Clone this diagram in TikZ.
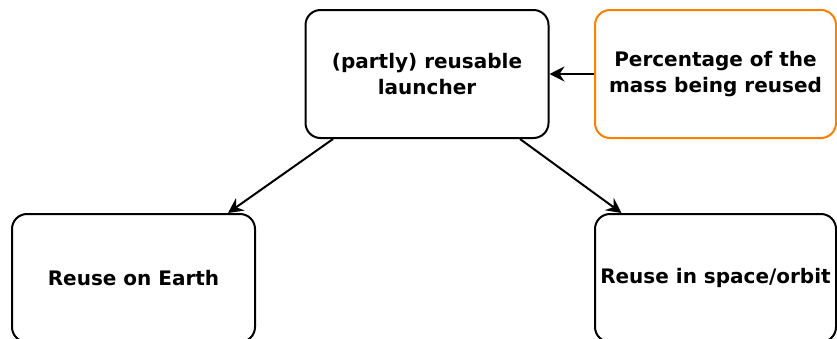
\documentclass[tikz,border=0pt]{standalone}
\usepackage{fontspec}
\setmainfont{DejaVu Sans}
\usetikzlibrary{arrows.meta}
\begin{document}
\begin{tikzpicture}[x=1pt,y=-1pt,
  box/.style={draw=black, line width=2pt, rounded corners=15pt, fill=white,
    minimum width=243pt, minimum height=128pt, inner sep=0pt, align=center,
    font=\fontsize{20}{26}\selectfont\bfseries},
  orangebox/.style={box, draw={rgb,255:red,255;green,128;blue,0}},
  arr/.style={draw=black, line width=2pt, -{Stealth[length=15pt,width=15pt,inset=5pt]}}]
  \useasboundingbox (0,0) rectangle (837,338);
  \clip (0,0) rectangle (837,338);
  \node[box] (launcher) at (427,74) {(partly) reusable\\launcher};
  \node[orangebox, minimum width=241pt] (mass) at (715.5,74) {Percentage of the\\mass being reused};
  \node[box] (earth) at (133.5,278) {Reuse on Earth};
  \node[box, minimum width=241pt] (orbit) at (715.5,278) {Reuse in space/orbit};
  \draw[arr] (mass.west) -- (launcher.east);
  \draw[arr] ([xshift=-94pt]launcher.south) -- ([xshift=94.5pt]earth.north);
  \draw[arr] ([xshift=93pt]launcher.south) -- ([xshift=-94pt]orbit.north);
\end{tikzpicture}
\end{document}
